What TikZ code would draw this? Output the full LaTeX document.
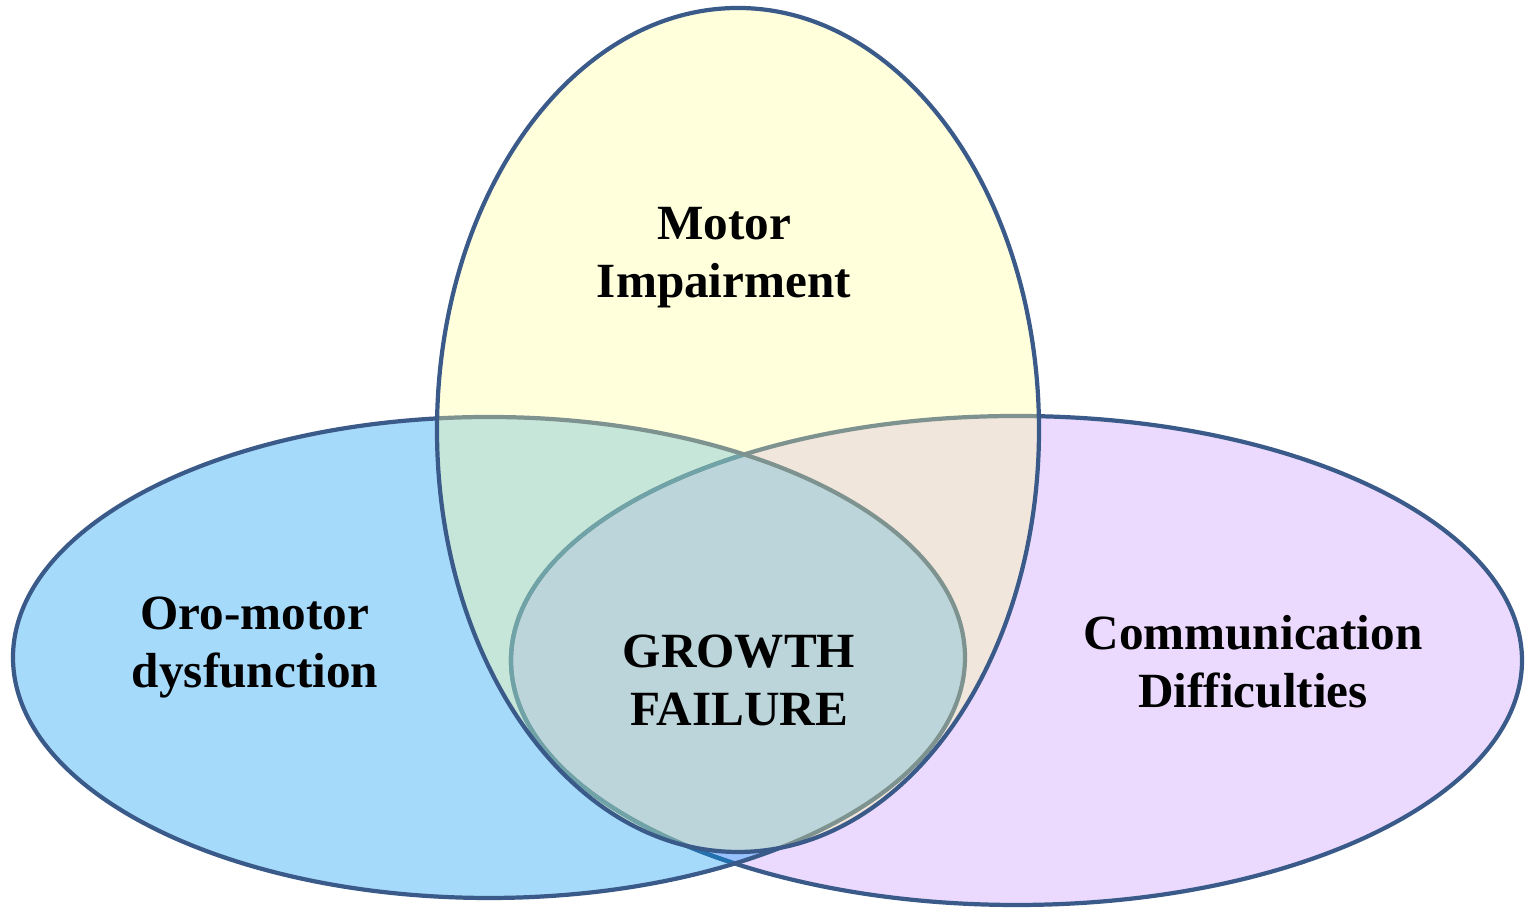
\documentclass[tikz,border=0pt]{standalone}
\usepackage{fontspec}
\setmainfont{Liberation Serif}
\usetikzlibrary{positioning}

\definecolor{rim}{RGB}{58,90,138}
\definecolor{rimlight}{RGB}{34,114,175}
\definecolor{blueset}{RGB}{166,218,251}
\definecolor{purpleset}{RGB}{235,218,254}
\definecolor{lensset}{RGB}{152,192,252}
\definecolor{yellowset}{RGB}{255,255,155}

\begin{document}
\begin{tikzpicture}[line width=1.2pt,
    setlabel/.style={font=\fontsize{14}{16.5}\selectfont\bfseries, align=center, inner sep=0pt}]

            \useasboundingbox (0,0) rectangle (15.26,9.10);

            % Centres of the three sets
            \coordinate (motor) at (7.38,4.80);
            \coordinate (oro) at (4.89,2.525);
            \coordinate (comm) at (10.165,2.495);

            % Fill the two lower sets
            \fill[purpleset] (comm) ellipse [x radius=5.055, y radius=2.445];
            \fill[blueset] (oro) ellipse [x radius=4.76, y radius=2.405];

            % Where the lower sets overlap
            \begin{scope}
                \clip (oro) ellipse [x radius=4.76, y radius=2.405];
                \fill[lensset] (comm) ellipse [x radius=5.055, y radius=2.445];
            \end{scope}

            % Outlines of the lower sets
            \draw[rim] (comm) ellipse [x radius=5.055, y radius=2.445];
            \begin{scope}
                \clip (oro) ellipse [x radius=4.76, y radius=2.405];
                \draw[rimlight] (comm) ellipse [x radius=5.055, y radius=2.445];
            \end{scope}
            \draw[rim] (oro) ellipse [x radius=4.76, y radius=2.405];

            % Upper set on top, see-through
            \draw[rim, fill=yellowset, fill opacity=0.35] (motor) ellipse [x radius=3.01, y radius=4.22];

            % Labels
            \node[setlabel] (motorlabel) at (7.24,6.52) {Motor\\Impairment};
            \node[setlabel] (orolabel) at (2.55,2.62) {Oro-motor\\dysfunction};
            \node[setlabel] (growth) at (7.39,2.30) {GROWTH\\FAILURE};
            \node[setlabel] (commlabel) at (12.53,2.48) {Communication\\Difficulties};

        \end{tikzpicture}
\end{document}
